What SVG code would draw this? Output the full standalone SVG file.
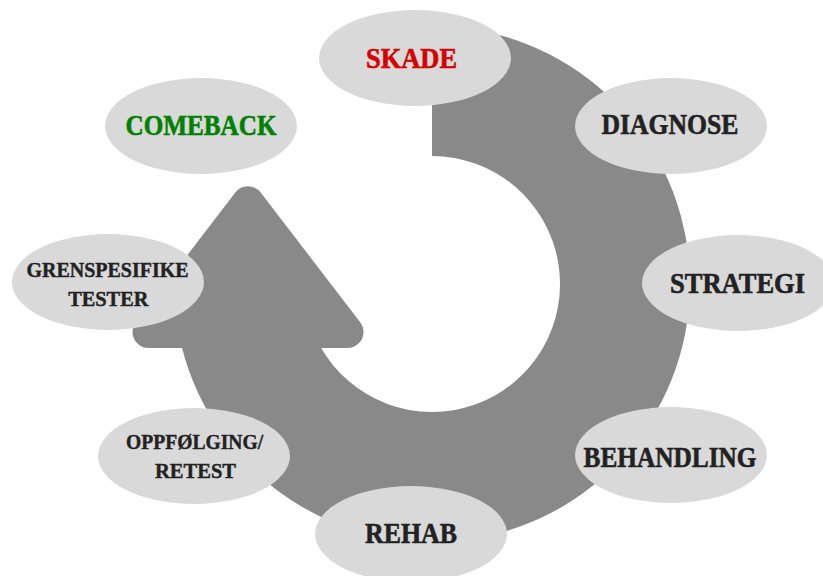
<svg xmlns="http://www.w3.org/2000/svg" width="823" height="576" viewBox="0 0 823 576">
<style>
.ring{fill:#898989}
.head{fill:#898989;stroke:#898989;stroke-width:32;stroke-linejoin:round}
.node ellipse{fill:#d9d9d9}
.lbl{font-family:"Liberation Serif","Times New Roman",serif;font-weight:bold;text-anchor:middle;fill:#222222;stroke:#222222;stroke-width:0.6}
.big{font-size:29px}
.small{font-size:20px;stroke-width:0.4}
.red{fill:#d40000;stroke:#d40000}
.green{fill:#008000;stroke:#008000}
</style>
<rect width="823" height="576" fill="#ffffff"/>
<g id="connectors">
<path class="ring" d="M432,26 A258,258 0 1 1 181.8,347 L320.6,347 A128,128 0 1 0 432,156 Z"/>
<polygon class="head" points="248,202.3 148.5,332 347.5,332"/>
</g>
<g id="node-skade" class="node"><ellipse cx="415" cy="58" rx="96" ry="48"/><text class="lbl big red" x="411.5" y="68" textLength="91" lengthAdjust="spacingAndGlyphs">SKADE</text></g>
<g id="node-diagnose" class="node"><ellipse cx="671" cy="126" rx="96" ry="48"/><text class="lbl big" x="670" y="134" textLength="137" lengthAdjust="spacingAndGlyphs">DIAGNOSE</text></g>
<g id="node-strategi" class="node"><ellipse cx="738" cy="283" rx="96" ry="48"/><text class="lbl big" x="737.5" y="293" textLength="135" lengthAdjust="spacingAndGlyphs">STRATEGI</text></g>
<g id="node-behandling" class="node"><ellipse cx="671" cy="455" rx="96" ry="48"/><text class="lbl big" x="670" y="466.5" textLength="173" lengthAdjust="spacingAndGlyphs">BEHANDLING</text></g>
<g id="node-rehab" class="node"><ellipse cx="411" cy="534" rx="96" ry="48"/><text class="lbl big" x="411" y="542.5" textLength="92" lengthAdjust="spacingAndGlyphs">REHAB</text></g>
<g id="node-oppfolging" class="node"><ellipse cx="194" cy="456" rx="96" ry="48"/><text class="lbl small" x="194.6" y="449.3" textLength="137" lengthAdjust="spacingAndGlyphs">OPPFØLGING/</text><text class="lbl small" x="195.5" y="478.3" textLength="81" lengthAdjust="spacingAndGlyphs">RETEST</text></g>
<g id="node-grenspesifike" class="node"><ellipse cx="108" cy="282" rx="96" ry="48"/><text class="lbl small" x="107.5" y="276.7" textLength="162" lengthAdjust="spacingAndGlyphs">GRENSPESIFIKE</text><text class="lbl small" x="108.3" y="306" textLength="80" lengthAdjust="spacingAndGlyphs">TESTER</text></g>
<g id="node-comeback" class="node"><ellipse cx="201" cy="126" rx="96" ry="48"/><text class="lbl big green" x="201" y="135" textLength="151" lengthAdjust="spacingAndGlyphs">COMEBACK</text></g>
</svg>
